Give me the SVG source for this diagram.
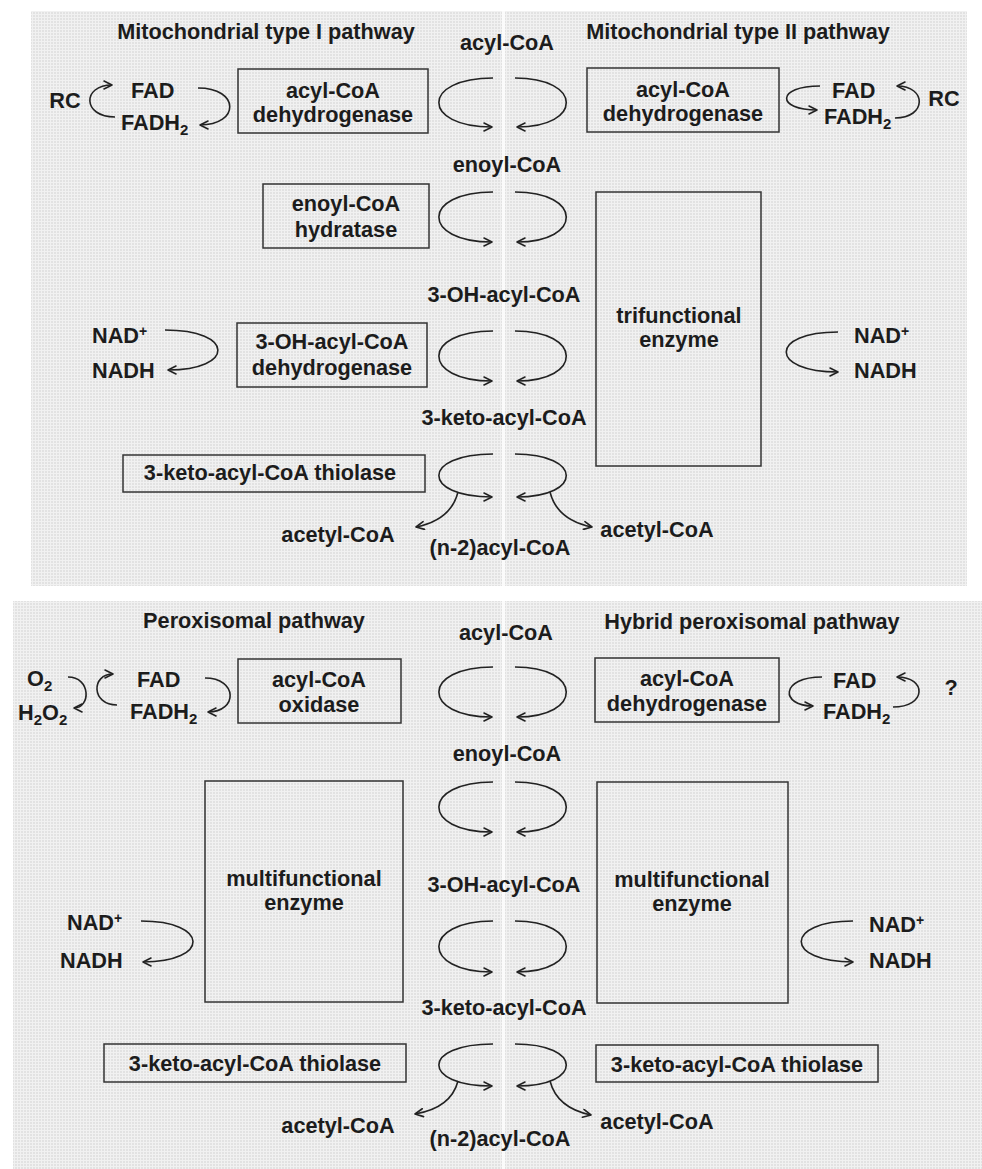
<svg xmlns="http://www.w3.org/2000/svg" width="982" height="1169" viewBox="0 0 982 1169">
  <defs>
    <pattern id="mesh" width="3" height="3" patternUnits="userSpaceOnUse">
      <rect width="3" height="3" fill="#f1f1f1"/>
      <rect width="2" height="2" fill="#e2e2e2"/>
    </pattern>
    <marker id="chev" viewBox="0 0 10 10" refX="9" refY="5" markerWidth="10" markerHeight="10" markerUnits="userSpaceOnUse" orient="auto">
      <path d="M1,1 L9,5 L1,9" fill="none" stroke="#222" stroke-width="1.6" stroke-linecap="round" stroke-linejoin="round"/>
    </marker>
    <style>
      text { font-family: "Liberation Sans", Arial, Helvetica, sans-serif; font-weight: bold; font-size: 21.7px; fill: #1c1c1c; }
      .mid { text-anchor: middle; }
      .sub { font-size: 15px; }
      .sup { font-size: 14px; }
      .box { fill: none; stroke: #333; stroke-width: 1.5; }
      .arc { fill: none; stroke: #222; stroke-width: 1.6; marker-end: url(#chev); }
    </style>
  </defs>

  <rect width="982" height="1169" fill="#ffffff"/>

  <!-- panels -->
  <g id="panels">
    <rect x="31" y="11" width="936" height="575" fill="url(#mesh)"/>
    <rect x="13" y="601" width="969" height="568" fill="url(#mesh)"/>
    <rect x="502" y="11" width="3" height="575" fill="#fbfbfb"/>
    <rect x="502" y="601" width="3" height="568" fill="#fbfbfb"/>
  </g>

  <!-- connectors -->
  <g id="connectors">
    <!-- upper panel: central conversions -->
    <path class="arc" d="M493,78 C421,78 421,127 492,127"/>
    <path class="arc" d="M515,78 C583,78 583,127 517,127"/>
    <path class="arc" d="M493,192 C421,192 421,242 492,242"/>
    <path class="arc" d="M515,192 C583,192 583,242 517,242"/>
    <path class="arc" d="M493,331 C421,331 421,381 492,381"/>
    <path class="arc" d="M515,331 C583,331 583,381 517,381"/>
    <path class="arc" d="M493,454 C421,454 421,497 492,497"/>
    <path class="arc" d="M515,454 C583,454 583,497 517,497"/>
    <path class="arc" d="M458,492 Q451,520 416,527"/>
    <path class="arc" d="M550,492 Q557,520 592,527"/>
    <!-- upper panel: cofactor cycles -->
    <path class="arc" d="M115,117 C82,117 82,85 112,85"/>
    <path class="arc" d="M198,88 C240,88 240,125 200,125"/>
    <path class="arc" d="M820,86 C776,86 776,110 817,110"/>
    <path class="arc" d="M895,118 C927,118 927,86 897,86"/>
    <path class="arc" d="M165,330 C235,330 235,370 168,370"/>
    <path class="arc" d="M838,332 C769,332 769,372 838,372"/>

    <!-- lower panel: central conversions -->
    <path class="arc" d="M493,667 C421,667 421,717 492,717"/>
    <path class="arc" d="M515,667 C583,667 583,717 517,717"/>
    <path class="arc" d="M493,782 C421,782 421,832 492,832"/>
    <path class="arc" d="M515,782 C583,782 583,832 517,832"/>
    <path class="arc" d="M493,921 C421,921 421,972 492,972"/>
    <path class="arc" d="M515,921 C583,921 583,972 517,972"/>
    <path class="arc" d="M493,1044 C421,1044 421,1086 492,1086"/>
    <path class="arc" d="M515,1044 C583,1044 583,1086 517,1086"/>
    <path class="arc" d="M458,1081 Q451,1108 415,1114"/>
    <path class="arc" d="M550,1081 Q557,1108 591,1115"/>
    <!-- lower panel: cofactor cycles -->
    <path class="arc" d="M68,677 C91,677 91,708 74,708"/>
    <path class="arc" d="M117,705 C91,705 91,674 113,674"/>
    <path class="arc" d="M205,678 C238,678 238,712 208,712"/>
    <path class="arc" d="M822,677 C780,677 780,706 813,706"/>
    <path class="arc" d="M893,707 C927,707 927,677 897,677"/>
    <path class="arc" d="M141,921 C210,921 210,962 143,962"/>
    <path class="arc" d="M853,921 C784,921 784,962 853,962"/>
  </g>

  <!-- ===== Mitochondrial pathways ===== -->
  <g id="title-mito-1"><text class="mid" x="266" y="39">Mitochondrial type I pathway</text></g>
  <g id="title-mito-2"><text class="mid" x="738" y="39">Mitochondrial type II pathway</text></g>

  <g id="m-acyl-coa"><text class="mid" x="507" y="50">acyl-CoA</text></g>
  <g id="m-enoyl-coa"><text class="mid" x="507" y="172">enoyl-CoA</text></g>
  <g id="m-oh-acyl-coa"><text class="mid" x="504" y="302">3-OH-acyl-CoA</text></g>
  <g id="m-keto-acyl-coa"><text class="mid" x="504" y="425">3-keto-acyl-CoA</text></g>
  <g id="m-n2-acyl-coa"><text class="mid" x="500" y="555">(n-2)acyl-CoA</text></g>
  <g id="m-acetyl-left"><text class="mid" x="338" y="542">acetyl-CoA</text></g>
  <g id="m-acetyl-right"><text class="mid" x="657" y="537">acetyl-CoA</text></g>

  <g id="m-acad-1">
    <rect class="box" x="238" y="69" width="190" height="64"/>
    <text class="mid" x="333" y="98">acyl-CoA</text>
    <text class="mid" x="333" y="122">dehydrogenase</text>
  </g>
  <g id="m-acad-2">
    <rect class="box" x="587" y="68" width="192" height="64"/>
    <text class="mid" x="683" y="97">acyl-CoA</text>
    <text class="mid" x="683" y="121">dehydrogenase</text>
  </g>
  <g id="m-hydratase">
    <rect class="box" x="263" y="184" width="166" height="64"/>
    <text class="mid" x="346" y="211">enoyl-CoA</text>
    <text class="mid" x="346" y="237">hydratase</text>
  </g>
  <g id="m-hadh">
    <rect class="box" x="237" y="323" width="190" height="64"/>
    <text class="mid" x="332" y="349">3-OH-acyl-CoA</text>
    <text class="mid" x="332" y="375">dehydrogenase</text>
  </g>
  <g id="m-thiolase">
    <rect class="box" x="123" y="455" width="302" height="37"/>
    <text class="mid" x="270" y="480">3-keto-acyl-CoA thiolase</text>
  </g>
  <g id="m-trifunctional">
    <rect class="box" x="596" y="192" width="165" height="274"/>
    <text class="mid" x="679" y="323">trifunctional</text>
    <text class="mid" x="679" y="347">enzyme</text>
  </g>

  <g id="m-fad-1">
    <text x="131" y="98">FAD</text>
    <text x="121" y="130">FADH<tspan class="sub" dy="5">2</tspan></text>
  </g>
  <g id="m-rc-1"><text class="mid" x="65" y="108">RC</text></g>
  <g id="m-fad-2">
    <text x="832" y="98">FAD</text>
    <text x="824" y="124">FADH<tspan class="sub" dy="5">2</tspan></text>
  </g>
  <g id="m-rc-2"><text class="mid" x="944" y="106">RC</text></g>
  <g id="m-nad-1">
    <text x="92" y="343">NAD<tspan class="sup" dy="-7">+</tspan></text>
    <text x="92" y="378">NADH</text>
  </g>
  <g id="m-nad-2">
    <text x="854" y="343">NAD<tspan class="sup" dy="-7">+</tspan></text>
    <text x="854" y="378">NADH</text>
  </g>

  <!-- ===== Peroxisomal pathways ===== -->
  <g id="title-perox"><text class="mid" x="254" y="628">Peroxisomal pathway</text></g>
  <g id="title-hybrid"><text class="mid" x="752" y="629">Hybrid peroxisomal pathway</text></g>

  <g id="p-acyl-coa"><text class="mid" x="506" y="640">acyl-CoA</text></g>
  <g id="p-enoyl-coa"><text class="mid" x="507" y="761">enoyl-CoA</text></g>
  <g id="p-oh-acyl-coa"><text class="mid" x="504" y="892">3-OH-acyl-CoA</text></g>
  <g id="p-keto-acyl-coa"><text class="mid" x="504" y="1015">3-keto-acyl-CoA</text></g>
  <g id="p-n2-acyl-coa"><text class="mid" x="500" y="1146">(n-2)acyl-CoA</text></g>
  <g id="p-acetyl-left"><text class="mid" x="338" y="1133">acetyl-CoA</text></g>
  <g id="p-acetyl-right"><text class="mid" x="657" y="1129">acetyl-CoA</text></g>

  <g id="p-acox">
    <rect class="box" x="238" y="659" width="163" height="64"/>
    <text class="mid" x="319" y="687">acyl-CoA</text>
    <text class="mid" x="319" y="712">oxidase</text>
  </g>
  <g id="p-acad">
    <rect class="box" x="595" y="658" width="184" height="64"/>
    <text class="mid" x="687" y="686">acyl-CoA</text>
    <text class="mid" x="687" y="711">dehydrogenase</text>
  </g>
  <g id="p-mfe-1">
    <rect class="box" x="205" y="781" width="198" height="221"/>
    <text class="mid" x="304" y="886">multifunctional</text>
    <text class="mid" x="304" y="910">enzyme</text>
  </g>
  <g id="p-mfe-2">
    <rect class="box" x="597" y="782" width="191" height="221"/>
    <text class="mid" x="692" y="887">multifunctional</text>
    <text class="mid" x="692" y="911">enzyme</text>
  </g>
  <g id="p-thiolase-1">
    <rect class="box" x="104" y="1044" width="302" height="38"/>
    <text class="mid" x="255" y="1071">3-keto-acyl-CoA thiolase</text>
  </g>
  <g id="p-thiolase-2">
    <rect class="box" x="596" y="1045" width="282" height="37"/>
    <text class="mid" x="737" y="1072">3-keto-acyl-CoA thiolase</text>
  </g>

  <g id="p-o2">
    <text x="27" y="686">O<tspan class="sub" dy="5">2</tspan></text>
    <text x="18" y="720">H<tspan class="sub" dy="5">2</tspan><tspan dy="-5">O</tspan><tspan class="sub" dy="5">2</tspan></text>
  </g>
  <g id="p-fad-1">
    <text x="137" y="687">FAD</text>
    <text x="130" y="719">FADH<tspan class="sub" dy="5">2</tspan></text>
  </g>
  <g id="p-fad-2">
    <text x="833" y="688">FAD</text>
    <text x="823" y="719">FADH<tspan class="sub" dy="5">2</tspan></text>
  </g>
  <g id="p-unknown"><text class="mid" x="951" y="695">?</text></g>
  <g id="p-nad-1">
    <text x="67" y="930">NAD<tspan class="sup" dy="-7">+</tspan></text>
    <text x="60" y="968">NADH</text>
  </g>
  <g id="p-nad-2">
    <text x="869" y="932">NAD<tspan class="sup" dy="-7">+</tspan></text>
    <text x="869" y="968">NADH</text>
  </g>
</svg>
